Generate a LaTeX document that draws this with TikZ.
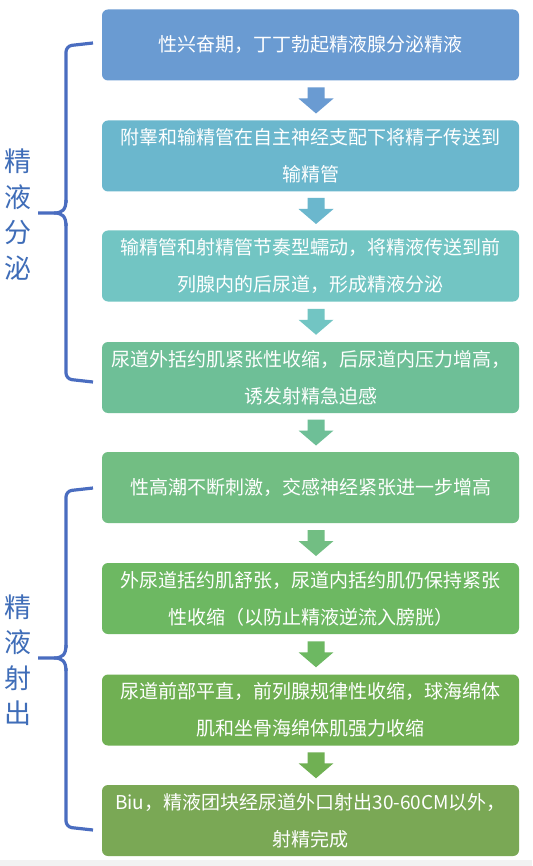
\documentclass[tikz,border=0pt]{standalone}
\usepackage{fontspec}
\setmainfont{Noto Sans CJK SC}
\usetikzlibrary{calc}
\definecolor{cA}{HTML}{6A9BD2}
\definecolor{cB}{HTML}{6BB7CD}
\definecolor{cC}{HTML}{72C5C3}
\definecolor{cD}{HTML}{6EBF97}
\definecolor{cE}{HTML}{72BE83}
\definecolor{cF}{HTML}{6DB862}
\definecolor{cG}{HTML}{70B053}
\definecolor{cH}{HTML}{7AA855}
\definecolor{braceblue}{HTML}{4A6DC0}
\definecolor{labelblue}{HTML}{3F6DB8}
\definecolor{stripgray}{HTML}{F2F2F2}
\newcommand{\flowarrow}[3]{%
  \path (#1.south) -- (#2.north) coordinate[pos=0.5] (#1#2mid);
  \fill[#3, shift={($(#1#2mid)+(5.5,0)$)}]
    (-8.5,-13) -- (8.5,-13) -- (8.5,-2) -- (17.5,-2) -- (0,13) -- (-17.5,-2) -- (-8.5,-2) -- cycle;
}
\begin{document}
\begin{tikzpicture}[x=1pt,y=-1pt,
  flowbox/.style={rounded corners=6pt, minimum width=417pt, minimum height=71pt,
    inner sep=0pt, text=white, align=center, font=\fontsize{19}{37}\selectfont},
  bracestyle/.style={draw=braceblue, line width=3.2pt, rounded corners=6pt},
  sidelabel/.style={text=labelblue, align=center, font=\fontsize{27}{35.5}\selectfont, inner sep=0pt}]
\useasboundingbox (0,0) rectangle (532,866);
\fill[white] (0,0) rectangle (532,866);
\fill[stripgray] (0,860) rectangle (532,866);

\node[flowbox, fill=cA] (b1) at (310.5,45) {性兴奋期，丁丁勃起精液腺分泌精液};
\node[flowbox, fill=cB] (b2) at (310.5,156) {附睾和输精管在自主神经支配下将精子传送到\\输精管};
\node[flowbox, fill=cC] (b3) at (310.5,266) {输精管和射精管节奏型蠕动，将精液传送到前\\列腺内的后尿道，形成精液分泌};
\node[flowbox, fill=cD] (b4) at (310.5,377.5) {尿道外括约肌紧张性收缩，后尿道内压力增高，\\诱发射精急迫感};
\node[flowbox, fill=cE] (b5) at (310.5,487.5) {性高潮不断刺激，交感神经紧张进一步增高};
\node[flowbox, fill=cF] (b6) at (310.5,598.5) {外尿道括约肌舒张，尿道内括约肌仍保持紧张\\性收缩（以防止精液逆流入膀胱）};
\node[flowbox, fill=cG] (b7) at (310.5,710) {尿道前部平直，前列腺规律性收缩，球海绵体\\肌和坐骨海绵体肌强力收缩};
\node[flowbox, fill=cH] (b8) at (310.5,820.5) {Biu，精液团块经尿道外口射出30-60CM以外，\\射精完成};

\flowarrow{b1}{b2}{cA}
\flowarrow{b2}{b3}{cB}
\flowarrow{b3}{b4}{cC}
\flowarrow{b4}{b5}{cD}
\flowarrow{b5}{b6}{cE}
\flowarrow{b6}{b7}{cF}
\flowarrow{b7}{b8}{cG}

% brackets
\coordinate (t1) at (93,43);
\coordinate (m1) at (38,213);
\coordinate (e1) at (93,382);
\draw[bracestyle] (t1) -- (66,46) -- (66,203);
\draw[draw=braceblue, line width=3.2pt] (66,200) .. controls (66,210) and (62,213) .. (54,213) -- (m1);
\draw[draw=braceblue, line width=3.2pt] (54,213) .. controls (62,213) and (66,216) .. (66,226);
\draw[bracestyle] (66,223) -- (66,379) -- (e1);

\coordinate (t2) at (93,488);
\coordinate (m2) at (38,658);
\coordinate (e2) at (93,830);
\draw[bracestyle] (t2) -- (66,491) -- (66,648);
\draw[draw=braceblue, line width=3.2pt] (66,645) .. controls (66,655) and (62,658) .. (54,658) -- (m2);
\draw[draw=braceblue, line width=3.2pt] (54,658) .. controls (62,658) and (66,661) .. (66,671);
\draw[bracestyle] (66,668) -- (66,827) -- (e2);

\node[sidelabel] (l1) at (18,214.5) {精\\液\\分\\泌};
\node[sidelabel] (l2) at (18,660) {精\\液\\射\\出};
\end{tikzpicture}
\end{document}
